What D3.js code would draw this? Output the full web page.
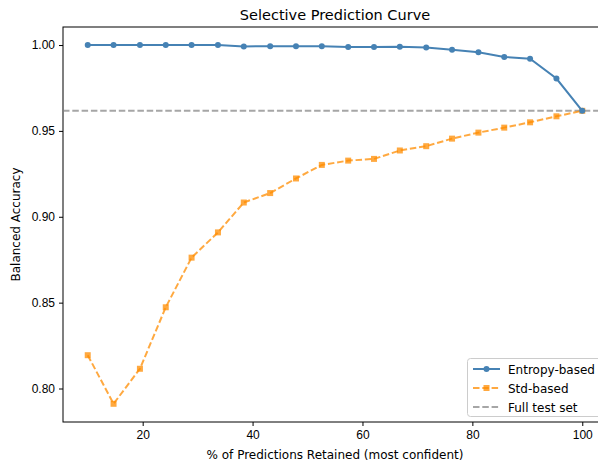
<!DOCTYPE html>
<html>
<head>
<meta charset="utf-8">
<script src="https://cdn.jsdelivr.net/npm/d3@7"></script>
<style>
  body { margin: 0; background: #fff; overflow: hidden; }
  svg { font-family: "DejaVu Sans", sans-serif; display: block; }
</style>
</head>
<body>
<div id="chart"></div>
<script>
// % of predictions retained (most confident first)
const retained = [10, 14.7, 19.5, 24.2, 28.9, 33.7, 38.4, 43.2, 47.9, 52.6,
  57.4, 62.1, 66.8, 71.6, 76.3, 81.1, 85.8, 90.5, 95.3, 100];
const entropyAcc = [1.000, 1.000, 1.000, 1.000, 1.000, 1.000, 0.9992, 0.9993, 0.9993, 0.9993,
  0.9989, 0.9989, 0.9990, 0.9986, 0.9972, 0.9958, 0.9931, 0.9920, 0.9805, 0.9617];
const stdAcc = [0.8194, 0.7911, 0.8115, 0.8473, 0.8762, 0.8909, 0.9083, 0.9138, 0.9223, 0.9302,
  0.9327, 0.9337, 0.9386, 0.9411, 0.9455, 0.9490, 0.9519, 0.9550, 0.9585, 0.9617];
const fullTestAcc = 0.9617;
const xTicks = [20, 40, 60, 80, 100];
const yTicks = [0.80, 0.85, 0.90, 0.95, 1.00];
const legendLabels = ["Entropy-based", "Std-based", "Full test set"];

const width = 598, height = 461;
const margin = {top: 27, left: 63, bottom: 422, right: 607};

const blue = "#4682b4";
const orange = "rgba(255,140,0,0.75)";
const grey = "rgba(128,128,128,0.7)";

const x = d3.scaleLinear().domain([5.5, 104.5]).range([margin.left, margin.right]);
const y = d3.scaleLinear().domain([0.7805, 1.0105]).range([margin.bottom, margin.top]);

const svg = d3.select("#chart").append("svg")
  .attr("width", width)
  .attr("height", height);

// axes
const xAxis = svg.append("g")
  .attr("transform", `translate(0,${margin.bottom})`)
  .call(d3.axisBottom(x).tickValues(xTicks).tickFormat(d3.format("d")).tickSize(4).tickPadding(4));
const yAxis = svg.append("g")
  .attr("transform", `translate(${margin.left},0)`)
  .call(d3.axisLeft(y).tickValues(yTicks).tickFormat(d3.format(".2f")).tickSize(4).tickPadding(4));
[xAxis, yAxis].forEach((g) => {
  g.select(".domain").remove();
  g.selectAll("line").attr("stroke", "#000").attr("stroke-width", 1);
  g.selectAll("text").attr("fill", "#000").style("font-size", "12px");
});

// frame
svg.append("rect")
  .attr("x", margin.left).attr("y", margin.top)
  .attr("width", margin.right - margin.left)
  .attr("height", margin.bottom - margin.top)
  .attr("fill", "none").attr("stroke", "#000").attr("stroke-width", 1);

// full test set reference
svg.append("line")
  .attr("x1", margin.left).attr("x2", margin.right)
  .attr("y1", y(fullTestAcc)).attr("y2", y(fullTestAcc))
  .attr("stroke", grey).attr("stroke-width", 2)
  .attr("stroke-dasharray", "6.5,2.8");

const line = d3.line().x((d) => x(d[0])).y((d) => y(d[1]));
const stdPts = retained.map((r, i) => [r, stdAcc[i]]);
const entPts = retained.map((r, i) => [r, entropyAcc[i]]);

// std-based
svg.append("path").datum(stdPts)
  .attr("d", line).attr("fill", "none")
  .attr("stroke", orange).attr("stroke-width", 2)
  .attr("stroke-dasharray", "6.5,2.8");
svg.append("g").selectAll("rect").data(stdPts).join("rect")
  .attr("x", (d) => x(d[0]) - 3).attr("y", (d) => y(d[1]) - 3)
  .attr("width", 6).attr("height", 6)
  .attr("fill", orange);

// entropy-based
svg.append("path").datum(entPts)
  .attr("d", line).attr("fill", "none")
  .attr("stroke", blue).attr("stroke-width", 2);
svg.append("g").selectAll("circle").data(entPts).join("circle")
  .attr("cx", (d) => x(d[0])).attr("cy", (d) => y(d[1]))
  .attr("r", 3).attr("fill", blue);

// title & labels
svg.append("text")
  .attr("x", (margin.left + margin.right) / 2).attr("y", 20)
  .attr("text-anchor", "middle").style("font-size", "14.5px")
  .text("Selective Prediction Curve");
svg.append("text")
  .attr("x", (margin.left + margin.right) / 2).attr("y", 459)
  .attr("text-anchor", "middle").style("font-size", "12px")
  .text("% of Predictions Retained (most confident)");
svg.append("text")
  .attr("transform", `translate(20,${(margin.top + margin.bottom) / 2}) rotate(-90)`)
  .attr("text-anchor", "middle").style("font-size", "12px")
  .text("Balanced Accuracy");

// legend
const lg = svg.append("g").attr("transform", "translate(467,358)");
lg.append("rect")
  .attr("x", 0.5).attr("y", 0.5).attr("width", 150).attr("height", 58).attr("rx", 3)
  .attr("fill", "rgba(255,255,255,0.8)").attr("stroke", "#ccc");
legendLabels.forEach((lab, i) => {
  const row = lg.append("g").attr("transform", `translate(0,${11 + i * 19})`);
  const ln = row.append("line").attr("x1", 6).attr("x2", 33).attr("y1", 0).attr("y2", 0)
    .attr("stroke-width", 2);
  if (i === 0) {
    ln.attr("stroke", blue);
    row.append("circle").attr("cx", 19.5).attr("cy", 0).attr("r", 3).attr("fill", blue);
  } else if (i === 1) {
    ln.attr("stroke", orange).attr("stroke-dasharray", "6.5,2.8");
    row.append("rect").attr("x", 16.5).attr("y", -3).attr("width", 6).attr("height", 6).attr("fill", orange);
  } else {
    ln.attr("stroke", grey).attr("stroke-dasharray", "6.5,2.8");
  }
  row.append("text").attr("x", 41).attr("y", 4.5).style("font-size", "12px").text(lab);
});
</script>
</body>
</html>
